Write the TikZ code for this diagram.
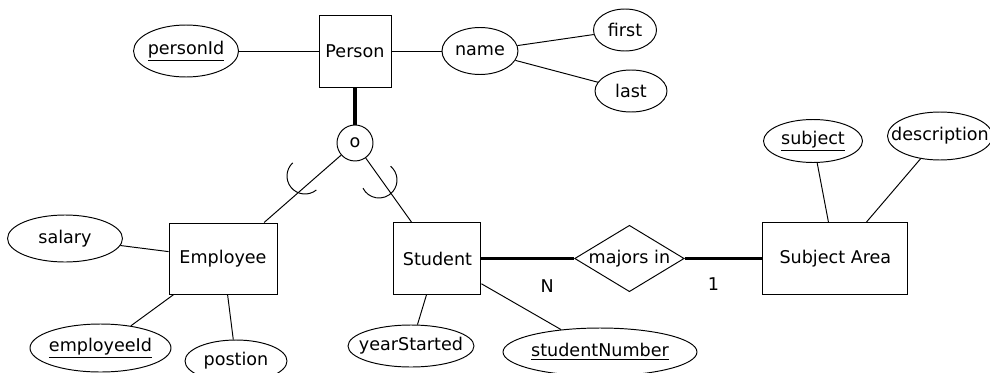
\documentclass[tikz,border=0pt]{standalone}
\usepackage{fontspec}
\setmainfont{DejaVu Sans}
\usetikzlibrary{shapes.geometric}
\tikzstyle{entity} = [rectangle, draw=black, line width=0.55pt, align=center, inner sep=0pt]
\tikzstyle{attrib} = [ellipse, draw=black, line width=0.55pt, inner xsep=-0.3cm, inner ysep=0pt]
\tikzstyle{relation} = [diamond, draw=black, line width=0.55pt, aspect=1.65, inner sep=0pt]
\tikzstyle{isa} = [circle, draw=black, line width=0.55pt, inner sep=0pt, minimum size=0.72cm]
\tikzstyle{link} = [line width=0.55pt]
\tikzstyle{link2} = [line width=1.8pt]

\begin{document}
\begin{tikzpicture}[x=0.02cm, y=-0.02cm]
            \useasboundingbox (0,0) rectangle (990,372);
            % Entities
            \node (person) [entity, minimum width=1.44cm, minimum height=1.44cm] at (355,51) {Person};
            \node (employee) [entity, minimum width=2.16cm, minimum height=1.42cm] at (223,258.5) {Employee};
            \node (student) [entity, right of=employee, node distance=4.29cm, minimum width=1.74cm, minimum height=1.44cm] {Student};
            \node (majorsin) [relation, right of=student, node distance=3.84cm, minimum width=2.18cm, minimum height=1.32cm] {majors in};
            \node (subjarea) [entity, right of=majorsin, node distance=4.12cm, minimum width=2.9cm, minimum height=1.44cm] {Subject Area};
            \node (disjoint) [isa, below of=person, node distance=1.84cm] {o};

            % Attributes
            \node (personid) [attrib, left of=person, node distance=3.38cm, minimum width=2.1cm, minimum height=1.04cm] {\underline{personId}};
            \node (name) [attrib, right of=person, node distance=2.5cm, minimum width=1.52cm, minimum height=0.94cm] {name};
            \node (first) [attrib, minimum width=1.26cm, minimum height=0.84cm] at (625,30) {first};
            \node (last) [attrib, minimum width=1.44cm, minimum height=0.84cm] at (631,91) {last};
            \node (salary) [attrib, minimum width=2.3cm, minimum height=0.94cm] at (65,238.5) {salary};
            \node (employeeid) [attrib, minimum width=2.82cm, minimum height=0.96cm] at (100.5,348) {\underline{employeeId}};
            \node (postion) [attrib, minimum width=2.04cm, minimum height=0.84cm] at (236,361) {postion};
            \node (yearstarted) [attrib, minimum width=2.52cm, minimum height=0.84cm] at (411,346) {yearStarted};
            \node (studentnumber) [attrib, minimum width=3.88cm, minimum height=0.96cm] at (600,352) {\underline{studentNumber}};
            \node (subject) [attrib, minimum width=1.98cm, minimum height=0.86cm] at (813,141) {\underline{subject}};
            \node (description) [attrib, minimum width=2.1cm, minimum height=0.96cm] at (940,136) {description};

            % Edges
            \draw [link] (personid) -- (person);
            \draw [link] (person) -- (name);
            \draw [link] (name) -- (first);
            \draw [link] (name) -- (last);
            \draw [link2] (person) -- (disjoint);
            \draw [link] (disjoint) -- (employee);
            \draw [link] (disjoint) -- (student);
            \draw [link] (salary) -- (employee);
            \draw [link] (employeeid) -- (employee);
            \draw [link] (postion) -- (employee);
            \draw [link] (yearstarted) -- (student);
            \draw [link] (studentnumber) -- (student);
            \draw [link2] (student) -- node[pos=0.71, yshift=-0.56cm] (card_n) {N} (majorsin);
            \draw [link2] (majorsin) -- node[pos=0.37, yshift=-0.52cm] (card_one) {1} (subjarea);
            \draw [link] (subject) -- (subjarea);
            \draw [link] (description) -- (subjarea);

            % Subset marks
            \draw [link] ([shift={(51:18)}]305,176) arc[start angle=51, end angle=227, radius=18];
            \draw [link] ([shift={(-50:18)}]379,180) arc[start angle=-50, end angle=153, radius=18];
        \end{tikzpicture}
\end{document}
